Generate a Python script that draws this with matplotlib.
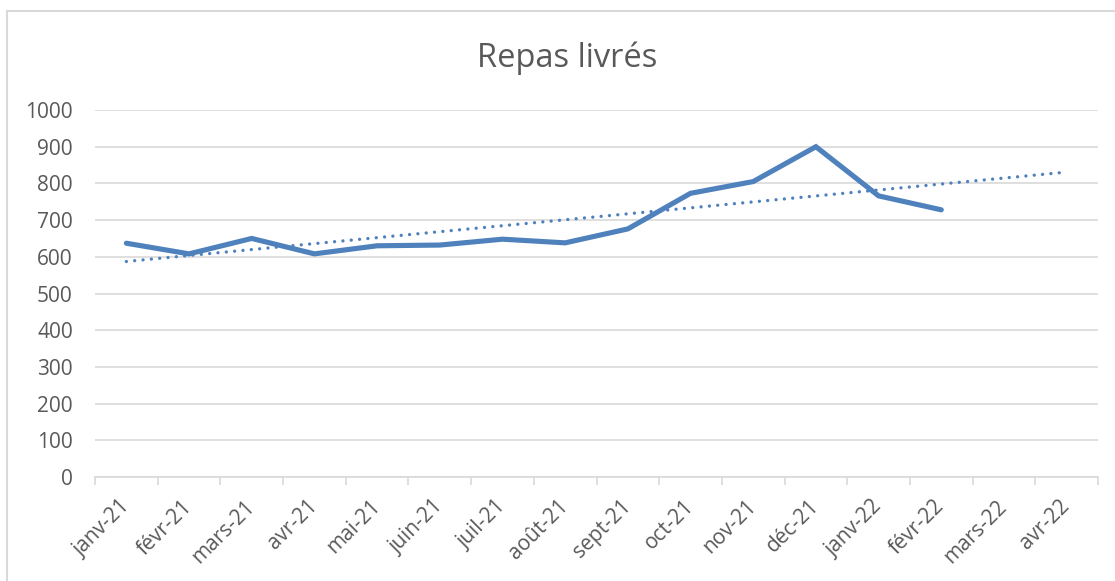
import numpy as np
import matplotlib
matplotlib.use("Agg")
import matplotlib.pyplot as plt
from matplotlib.lines import Line2D

plt.rcParams['font.family'] = ['Open Sans', 'DejaVu Sans']

months = ['janv-21', 'févr-21', 'mars-21', 'avr-21', 'mai-21', 'juin-21',
          'juil-21', 'août-21', 'sept-21', 'oct-21', 'nov-21', 'déc-21',
          'janv-22', 'févr-22', 'mars-22', 'avr-22']
repas = [637, 608, 650, 608, 630, 632, 648, 638, 676, 773, 805, 900, 766, 728]

blue = '#4F81BD'
grey_txt = '#595959'
grey_line = '#D9D9D9'

fig = plt.figure(figsize=(11.15, 5.81), dpi=100)
ax = fig.add_axes([95 / 1115, 1 - 477 / 581, 1003 / 1115, 367 / 581])

x = np.arange(len(repas))
ax.plot(x, repas, color=blue, lw=3.7, solid_capstyle='round', solid_joinstyle='miter', zorder=3)

# linear trend, forecast 2 periods forward
a, b = np.polyfit(x, repas, 1)
xt = np.arange(len(months))
ax.plot(xt, a * xt + b, color=blue, lw=2.4, linestyle=(0, (0.01, 2.5)),
        dash_capstyle='round', zorder=2)

ax.set_xlim(-0.5, len(months) - 0.5)
ax.set_ylim(0, 1000)
ax.set_yticks(range(0, 1001, 100))
ax.yaxis.grid(True, color=grey_line, lw=1.2)
ax.set_axisbelow(True)

ax.set_xticks(xt)
ax.set_xticklabels(months, rotation=45, ha='right', va='center',
                   rotation_mode='anchor', color=grey_txt, fontsize=15)
ax.set_xticks(np.arange(-0.5, len(months)), minor=True)
ax.tick_params(axis='x', which='major', length=0, pad=19)
ax.tick_params(axis='x', which='minor', length=6, color=grey_line, width=1.2)
ax.tick_params(axis='y', length=0, pad=16, labelcolor=grey_txt, labelsize=15)

for s in ['left', 'right', 'top']:
    ax.spines[s].set_visible(False)
ax.spines['bottom'].set_color(grey_line)
ax.spines['bottom'].set_linewidth(1.2)

fig.text(567 / 1115, 1 - 58 / 581, 'Repas livrés', ha='center', va='center',
         fontsize=23.5, color=grey_txt)

# chart border (top and left edges visible)
fig.add_artist(Line2D([6.5 / 1115, 1], [1 - 11 / 581, 1 - 11 / 581],
                      transform=fig.transFigure, color=grey_line, lw=1.5))
fig.add_artist(Line2D([6.5 / 1115, 6.5 / 1115], [0, 1 - 11 / 581],
                      transform=fig.transFigure, color=grey_line, lw=1.5))

fig.savefig('out.png', dpi=100)
